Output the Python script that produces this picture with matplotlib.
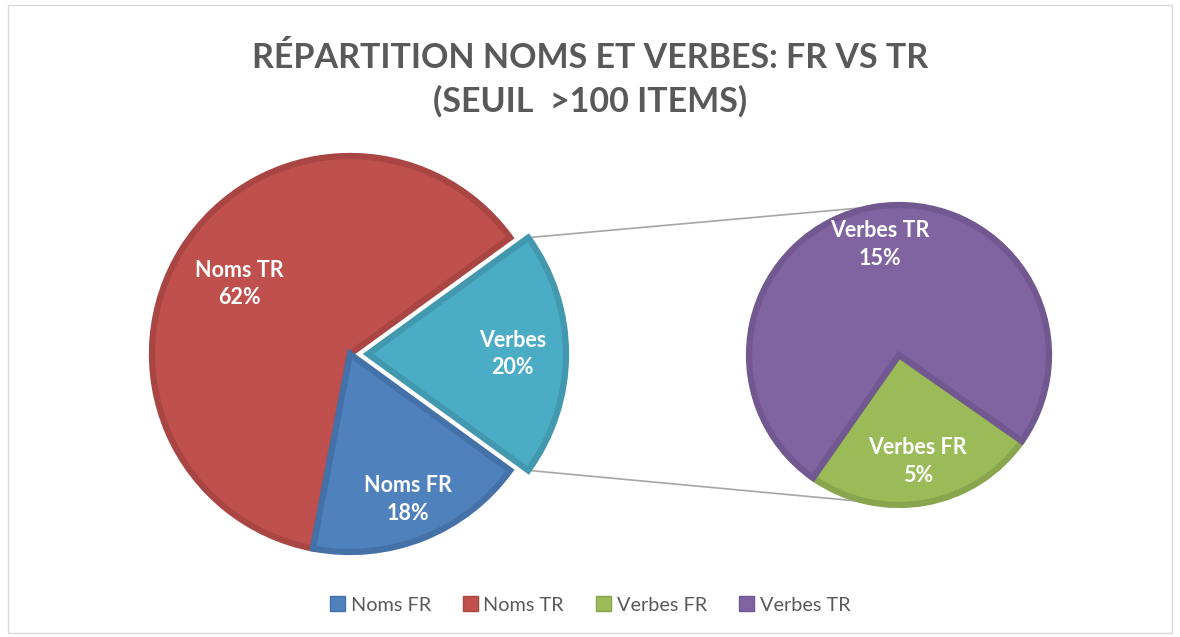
import numpy as np
import matplotlib
matplotlib.use("Agg")
import matplotlib.pyplot as plt
from matplotlib.patches import Patch, Rectangle

plt.rcParams['font.family'] = ['Lato', 'DejaVu Sans']

# data
main_labels = ["Verbes", "Noms TR", "Noms FR"]
main_values = [20, 62, 18]
sub_labels = ["Verbes FR", "Verbes TR"]
sub_values = [5, 15]
legend_labels = ["Noms FR", "Noms TR", "Verbes FR", "Verbes TR"]

title = "RÉPARTITION NOMS ET VERBES: FR VS TR\n(SEUIL  >100 ITEMS)"

# colours
fills = {"Noms FR": "#4F81BD", "Noms TR": "#C0504D", "Verbes": "#4BACC6",
         "Verbes FR": "#9BBB59", "Verbes TR": "#8064A2"}
edges = {"Noms FR": "#4571A9", "Noms TR": "#A94542", "Verbes": "#4298AF",
         "Verbes FR": "#89A54D", "Verbes TR": "#715891"}

W, H = 1180, 637
fig = plt.figure(figsize=(W / 100, H / 100), dpi=100)
ax = fig.add_axes([0, 0, 1, 1])

# outer chart border
ax.add_patch(Rectangle((8, 4), 1164, 628, fill=False, ec="#D9D9D9", lw=1))

c_main = (350, H - 354)
r_main = 198
c_sub = (899, H - 355)
r_sub = 150

# explode is in data units here (pixels)
wedges1, _ = ax.pie(main_values, center=c_main, radius=r_main, startangle=-36,
                    counterclock=True, explode=[18, 0, 0],
                    colors=[fills[l] for l in main_labels],
                    wedgeprops=dict(linewidth=4.5), frame=True)
for w, l in zip(wedges1, main_labels):
    w.set_edgecolor(edges[l])

wedges2, _ = ax.pie(sub_values, center=c_sub, radius=r_sub, startangle=-125,
                    counterclock=True,
                    colors=[fills[l] for l in sub_labels],
                    wedgeprops=dict(linewidth=4.5), frame=True)
for w, l in zip(wedges2, sub_labels):
    w.set_edgecolor(edges[l])

ax.set_xlim(0, W)
ax.set_ylim(0, H)
ax.set_aspect("equal")
ax.axis("off")


def put_labels(wedges, labels, values, fracs):
    for w, l, v, f in zip(wedges, labels, values, fracs):
        th = np.deg2rad((w.theta1 + w.theta2) / 2)
        cx, cy = w.center
        ax.text(cx + f * w.r * np.cos(th), cy + f * w.r * np.sin(th),
                f"{l}\n{v}%", ha="center", va="center", color="white",
                fontsize=15.5, fontweight="bold", linespacing=1.4)


put_labels(wedges1, main_labels, main_values, [0.73, 0.66, 0.79])
put_labels(wedges2, sub_labels, sub_values, [0.72, 0.75])

# connector lines
wv = wedges1[0]
for a_main, a_sub in [(wv.theta2, 97), (wv.theta1, -101)]:
    x0 = wv.center[0] + wv.r * np.cos(np.deg2rad(a_main))
    y0 = wv.center[1] + wv.r * np.sin(np.deg2rad(a_main))
    x1 = c_sub[0] + r_sub * np.cos(np.deg2rad(a_sub))
    y1 = c_sub[1] + r_sub * np.sin(np.deg2rad(a_sub))
    ax.plot([x0, x1], [y0, y1], color="#A6A6A6", lw=1.2, zorder=0)

fig.text(0.5, 1 - 80 / H, title, ha="center", va="center", fontsize=24.5,
         fontweight="bold", color="#595959", linespacing=1.4)

handles = [Patch(facecolor=fills[l], edgecolor=edges[l], label=l) for l in legend_labels]
fig.legend(handles=handles, loc="center", bbox_to_anchor=(0.5, 1 - 605 / H), ncol=4,
           frameon=False, fontsize=14.3, labelcolor="#595959", handlelength=0.75,
           handleheight=0.75, handletextpad=0.3, columnspacing=1.6)

fig.savefig("out.png", dpi=100)
